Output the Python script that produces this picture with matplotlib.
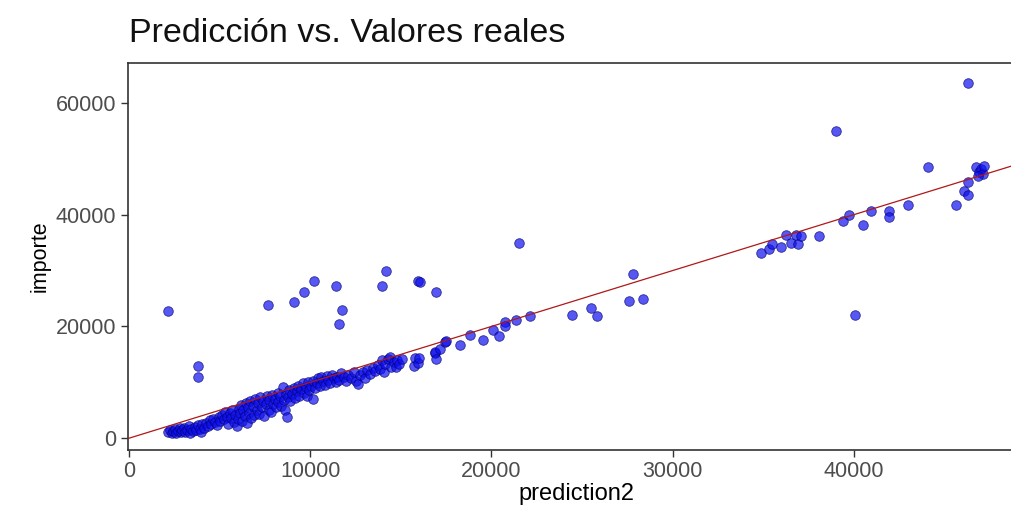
import matplotlib
matplotlib.use("Agg")
import matplotlib.pyplot as plt

plt.rcParams["font.family"] = ["Liberation Sans", "DejaVu Sans"]

# prediction2 (x) and importe (y)
prediction2 = [
    # dense band, 2000-4000
    2150, 2250, 2350, 2450, 2550, 2600, 2700, 2800, 2850, 2950, 3050, 3100,
    3200, 3300, 3350, 3450, 3550, 3650, 3700, 3800, 3900, 3950, 4050, 4150,
    # 4000-6000
    4250, 4350, 4450, 4550, 4650, 4750, 4850, 4950, 5050, 5150, 5250, 5300,
    5400, 5450, 5550, 5650, 5700, 5800, 5850, 5950, 6000,
    # 6000-8000
    6050, 6150, 6200, 6250, 6300, 6400, 6450, 6500, 6550, 6650, 6700, 6750,
    6850, 6900, 6950, 7050, 7100, 7200, 7250, 7350, 7400, 7450, 7550, 7600,
    7700, 7750, 7850, 7900, 7950,
    # 8000-10000
    8050, 8100, 8200, 8250, 8350, 8400, 8500, 8550, 8600, 8700, 8650, 8750,
    8850, 8900, 9000, 9100, 9150, 9250, 9350, 9400, 9500, 9600, 9650, 9750,
    9850, 9900, 9950,
    # 10000-12000
    10050, 10150, 10150, 10250, 10350, 10450, 10550, 10600, 10700, 10800,
    10900, 11000, 11100, 11200, 11300, 11400, 11500, 11600, 11700, 11850, 11950,
    # 12000-15200
    12100, 12250, 12400, 12550, 12650, 12750, 12900, 13000, 13150, 13300,
    13450, 13600, 13750, 13850, 13950, 14050, 14150, 14300, 14400, 14450,
    14600, 14750, 14800, 14900, 15050,
    # 15500-22000
    15700, 15800, 15950, 15990, 16870, 16900, 16960, 17180, 17450, 17500,
    18290, 18800, 19520, 20070, 20400, 20720, 20720, 21380, 22100,
    # outliers above the line
    2140, 3800, 3800, 7660, 9120, 9670, 10220, 11400, 11750, 11570, 14200,
    13960, 15950, 16080, 16960, 21510,
    # 24000-29000
    24460, 25470, 25840, 27590, 27830, 28360,
    # 34000-47000
    34860, 35320, 35470, 35970, 36240, 36520, 36800, 36890, 37070, 38080,
    38990, 39400, 39750, 40070, 40520, 40960, 41950, 41950, 42970, 44070,
    45620, 46050, 46280, 46280, 46280, 46750, 46900, 47000, 47100, 47200, 46850,
]

importe = [
    1100, 1400, 900, 1250, 1600, 1000, 1350, 1750, 1100, 1450, 1900, 1200,
    1550, 2100, 1000, 1700, 1300, 2000, 1550, 2300, 1700, 1200, 2500, 1900,
    2800, 2200, 3200, 2600, 3500, 2900, 2300, 3800, 3100, 4200, 3400, 4700,
    3800, 2600, 4500, 3600, 5000, 2900, 4200, 2100, 3400,
    5300, 4500, 6000, 3100, 5000, 4000, 6300, 2700, 5500, 4600, 6700, 3600,
    5800, 4200, 7000, 5100, 6300, 4400, 7300, 5600, 6700, 3900, 6100, 7600,
    5000, 6900, 4700, 7800, 6200,
    7100, 5500, 8100, 6400, 7500, 5800, 9100, 6900, 5000, 3800, 8000, 7300,
    8600, 6600, 7900, 9000, 7200, 8400, 9400, 7600, 8800, 9800, 8100, 9200,
    7600, 10000, 8700,
    9300, 7100, 10300, 8900, 9800, 10700, 9300, 11000, 10200, 9500,
    11200, 10500, 9800, 11300, 10700, 10100, 11000, 10400, 11600, 10900, 10200,
    11400, 10800, 11800, 10300, 9700, 11300, 11900, 10800, 12200, 11500,
    12600, 12000, 13100, 12400, 14000, 11800, 13300, 14200, 14500, 12700,
    13600, 12700, 14000, 13200, 14200,
    12900, 14300, 13400, 14300, 15200, 15400, 14250, 16000, 17200, 17400,
    16700, 18500, 17500, 19400, 18200, 20800, 20000, 21100, 21800,
    22800, 12900, 10950, 23900, 24300, 26100, 28200, 27200, 22900, 20400, 30000,
    27200, 28200, 27900, 26100, 34900,
    22100, 23300, 21800, 24600, 29400, 24900,
    33200, 33900, 34800, 34300, 36300, 34900, 36300, 34800, 36100, 36100,
    55000, 38900, 40000, 22100, 38200, 40700, 40700, 39500, 41800, 48600,
    41800, 44300, 43500, 45800, 63600, 48500, 47600, 48100, 47300, 48700, 46900,
]

xlim = (-80, 49500)
ylim = (-2100, 67100)
xticks = [0, 10000, 20000, 30000, 40000]
yticks = [0, 20000, 40000, 60000]

fig = plt.figure(figsize=(10.12, 5.22), dpi=100)
# panel runs off the right edge, as in the reference
ax = fig.add_axes([0.126, 0.138, 0.888, 0.741])

ax.scatter(prediction2, importe, s=48, color="#1010F0", alpha=0.7,
           edgecolors="#000070", linewidths=0.6, zorder=3)
ax.axline((0, 0), slope=1, color="#B01818", linewidth=0.9, zorder=4)

ax.set_xlim(*xlim)
ax.set_ylim(*ylim)
ax.set_xticks(xticks)
ax.set_yticks(yticks)
ax.set_xticklabels([str(t) for t in xticks])
ax.set_yticklabels([str(t) for t in yticks])
ax.tick_params(direction="out", length=5, width=1, color="#333333",
               labelcolor="#4D4D4D", labelsize=15.5, pad=3)

for sp in ax.spines.values():
    sp.set_color("#333333")
    sp.set_linewidth(1.2)

ax.set_xlabel("prediction2", fontsize=17, labelpad=1)
ax.set_ylabel("importe", fontsize=15.5, labelpad=4)

fig.text(0.127, 1 - 42 / 522, "Predicción vs. Valores reales",
         fontsize=24.5, ha="left", va="baseline", color="#111111")

fig.savefig("out.png", dpi=100)
